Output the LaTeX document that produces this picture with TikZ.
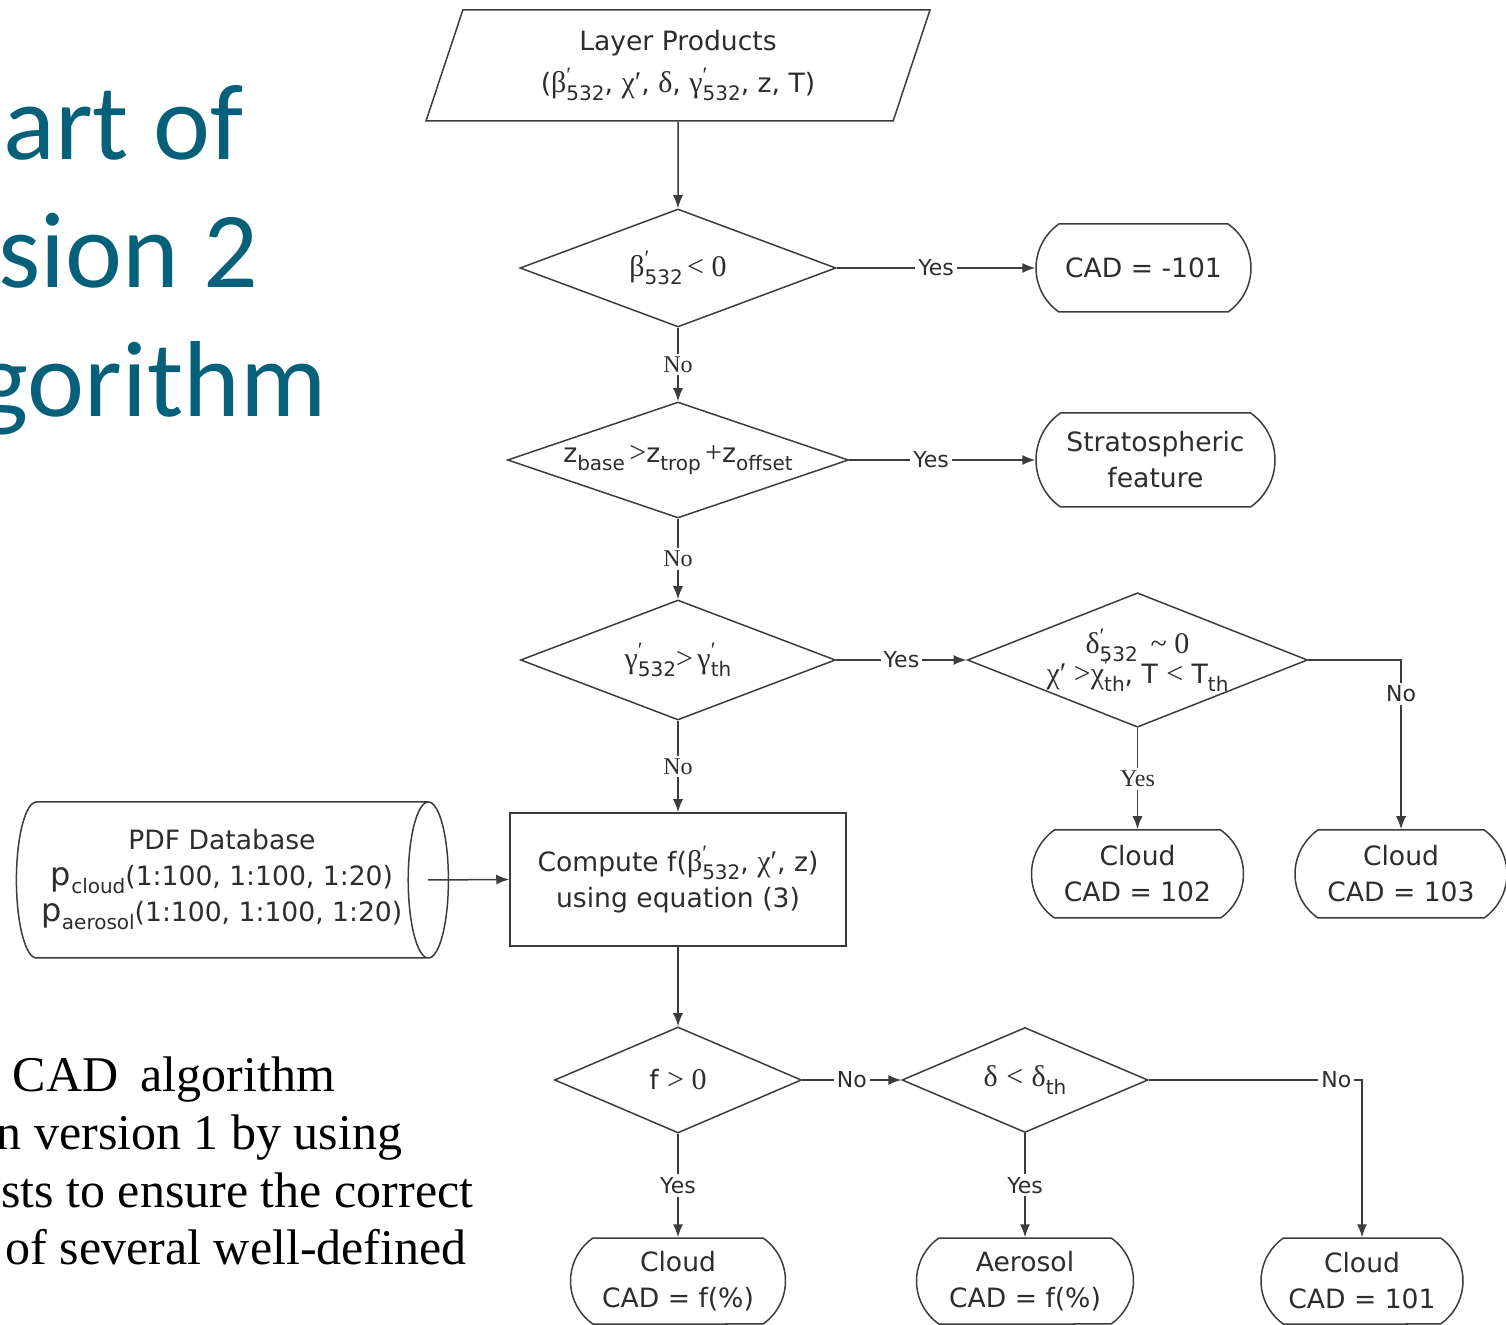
\documentclass[tikz,border=0pt]{standalone}
\usepackage{fontspec}
\setmainfont{DejaVu Sans}
\newfontfamily\grk{Liberation Serif}
\newfontfamily\ttlfont{Carlito}
\newfontfamily\bodyser{Liberation Serif}
\usetikzlibrary{shapes.geometric,shapes.misc,arrows.meta}
\definecolor{lc}{RGB}{60,60,60}
\definecolor{tc}{RGB}{45,45,45}
\definecolor{teal}{RGB}{6,96,122}
\newcommand{\su}[1]{\raisebox{-0.55ex}{\fontsize{10}{10}\selectfont #1}}
\newcommand{\ps}[1]{\rlap{\raisebox{0.7ex}{\grk\fontsize{11}{11}\selectfont ′}}\raisebox{-0.55ex}{\fontsize{10}{10}\selectfont #1}}
\newcommand{\g}[1]{{\grk\fontsize{15}{15}\selectfont #1}}
\begin{document}
\begin{tikzpicture}[x=0.5pt,y=-0.5pt,line width=0.75pt,color=lc,text=tc,
  font=\fontsize{13.3}{18}\selectfont,
  arr/.style={-{Latex[length=6.5pt,width=5pt]}},
  dia/.style={diamond,draw,inner sep=0pt,align=center},
  term/.style={rounded rectangle,rounded rectangle arc length=110,draw,inner sep=0pt,align=center},
  procbox/.style={rectangle,draw,inner sep=0pt,align=center},
  lab/.style={fill=white,inner sep=1.5pt,font=\fontsize{11}{11}\selectfont},
  slab/.style={fill=white,inner sep=1.5pt,font=\grk\fontsize{12}{12}\selectfont},
  ttl/.style={text=teal,font=\ttlfont\fontsize{54}{54}\selectfont,inner sep=0pt,anchor=base east},
  bdy/.style={text=black,font=\bodyser\fontsize{25}{25}\selectfont,inner sep=0pt}]
\useasboundingbox (0,0) rectangle (1506,1325);
\fill[white] (0,0) rectangle (1506,1325);

% title fragments
\node[ttl] (t1) at (244,160) {art of};
\node[ttl] (t2) at (259,288) {sion 2};
\node[ttl] (t3) at (327,417) {gorithm};

% body text fragments
\node[bdy,anchor=base west] (b1) at (12,1092) {CAD\hspace{0.45em}algorithm};
\node[bdy,anchor=base east] (b2) at (403,1150) {on version 1 by using};
\node[bdy,anchor=base east] (b3) at (474,1207) {sts to ensure the correct};
\node[bdy,anchor=base west] (b4) at (5,1264) {of several well-defined};

% flowchart nodes
\node[draw,trapezium,trapezium left angle=62.4,trapezium right angle=117.6,
  trapezium stretches body,minimum width=252pt,minimum height=55.5pt,inner sep=0pt,align=center]
  (lp) at (678,65.5) {Layer Products\\[3pt](\g{β}\ps{532}, \g{χ′}, \g{δ}, \g{γ}\ps{532}, z, T)};

\node[dia,aspect=2.68,minimum width=158pt,minimum height=59pt] (d1) at (678,268) {\g{β}\ps{532}\,\g{< 0}};
\node[term,minimum width=107.5pt,minimum height=44pt] (cadm) at (1143.5,268) {CAD = -101};

\node[dia,aspect=2.94,minimum width=170.5pt,minimum height=58pt] (d2) at (678,460) {z\su{base}\,\g{>}z\su{trop}\,\g{+}z\su{offset}};
\node[term,minimum width=119.5pt,minimum height=47pt] (strat) at (1155.5,460) {Stratospheric\\feature};

\node[dia,aspect=2.62,minimum width=157.5pt,minimum height=60pt] (d3) at (678,660) {\g{γ}\ps{532}\g{>}\,\g{γ}\ps{th}};
\node[dia,aspect=2.53,minimum width=168pt,minimum height=66.5pt] (d4) at (1137.5,660) {\g{δ}\ps{532}\, \g{\textasciitilde\ 0}\\[-3pt]\g{χ′ >}\g{χ}\ps{th}, T \g{<} T\su{th}};
\node[term,minimum width=106pt,minimum height=44pt] (c102) at (1137.5,874) {Cloud\\CAD = 102};
\node[term,minimum width=106pt,minimum height=44pt] (c103) at (1401,874) {Cloud\\CAD = 103};

\node[procbox,minimum width=168pt,minimum height=66.5pt] (comp) at (678,879.5) {Compute f(\g{β}\ps{532}, \g{χ′}, z)\\using equation (3)};
\node[cylinder,draw,aspect=0.4,minimum width=78pt,minimum height=216pt,inner sep=0pt,align=center] (pdf) at (222,880)
  {PDF Database\\{\fontsize{16}{16}\selectfont p}\su{cloud}(1:100, 1:100, 1:20)\\{\fontsize{16}{16}\selectfont p}\su{aerosol}(1:100, 1:100, 1:20)};
\coordinate (pdfout) at (428,880);

\node[dia,aspect=2.33,minimum width=123.5pt,minimum height=53pt] (d5) at (678,1080) {f \g{> 0}};
\node[dia,aspect=2.34,minimum width=123pt,minimum height=52.5pt] (d6) at (1025,1080) {\g{δ} \g{<} \g{δ}\su{th}};
\node[term,minimum width=107.5pt,minimum height=43pt] (cf) at (678,1281) {Cloud\\CAD = f(\%)};
\node[term,minimum width=108.5pt,minimum height=43pt] (aer) at (1025,1281) {Aerosol\\CAD = f(\%)};
\node[term,minimum width=101pt,minimum height=43pt] (c101) at (1362,1281) {Cloud\\CAD = 101};

% connectors
\draw[arr] (lp.south) -- (d1.north);
\draw[arr] (d1.east) -- node[lab,pos=0.5] {Yes} (cadm.west);
\draw[arr] (d1.south) -- node[slab] {No} (d2.north);
\draw[arr] (d2.east) -- node[lab,pos=0.44] {Yes} (strat.west);
\draw[arr] (d2.south) -- node[slab] {No} (d3.north);
\draw[arr] (d3.east) -- node[lab] {Yes} (d4.west);
\draw[arr] (d4.east) -| node[lab,pos=0.6] {No} (c103.north);
\draw[arr] (d4.south) -- node[slab] {Yes} (c102.north);
\draw[arr] (d3.south) -- node[slab] {No} (comp.north);
\draw[arr] (pdfout) -- (comp.west);
\draw[arr] (comp.south) -- (d5.north);
\draw[arr] (d5.east) -- node[lab] {No} (d6.west);
\draw[arr] (d6.east) -| node[lab,pos=0.44] {No} (c101.north);
\draw[arr] (d5.south) -- node[lab] {Yes} (cf.north);
\draw[arr] (d6.south) -- node[lab] {Yes} (aer.north);
\end{tikzpicture}
\end{document}
